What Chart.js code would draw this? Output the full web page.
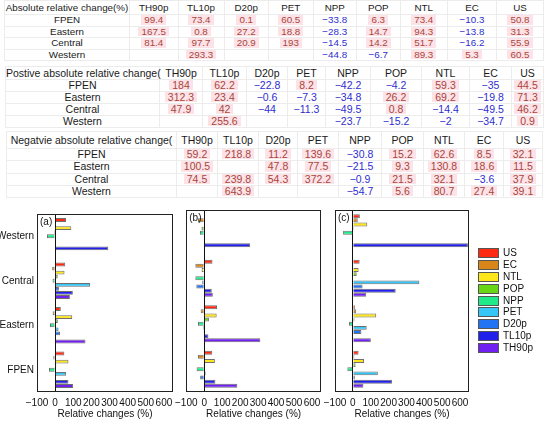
<!DOCTYPE html>
<html>
<head>
<meta charset="utf-8">
<script src="https://cdn.jsdelivr.net/npm/chart.js@4.4.1/dist/chart.umd.min.js"></script>
<style>
  body { margin: 0; width: 550px; height: 421px; background: #fff; position: relative; overflow: hidden;
         font-family: "Liberation Sans", Arial, sans-serif; }
  table.tb { position: absolute; border-collapse: collapse; table-layout: fixed; border: 1px solid #c4c4c4; color: #1a1a1a; }
  table.tb td { padding: 0; text-align: center; white-space: nowrap; overflow: visible; border: 1px solid #ececec; }
  .pos { display: inline-block; color: #a8463a; background: #fde2e8; padding: 0 3px; }
  .neg { display: inline-block; color: #2e2ed0; padding: 0 3px; }
  canvas.chart { position: absolute; }
  #legend { position: absolute; left: 478px; top: 248px; font-size: 10px; color: #111; }
  #legend div { height: 11.9px; position: relative; }
  #legend span.sw { position: absolute; left: 0; top: 0; width: 19px; height: 8px; border: 1px solid #555; }
  #legend span.lb { position: absolute; left: 25px; top: -1px; line-height: 11px; }
</style>
</head>
<body>
<canvas id="chartA" class="chart" width="180" height="216" style="left:0px;top:205px"></canvas>
<canvas id="chartB" class="chart" width="160" height="216" style="left:170px;top:205px"></canvas>
<canvas id="chartC" class="chart" width="157" height="216" style="left:318px;top:205px"></canvas>
<div id="legend"></div>
<script>
const regions = ['FPEN', 'Eastern', 'Central', 'Western'];
const variables = ['TH90p', 'TL10p', 'D20p', 'PET', 'NPP', 'POP', 'NTL', 'EC', 'US'];

// Absolute relative change (%) -> panel (a)
const absFPEN = [99.4, 73.4, 0.1, 60.5, -33.8, 6.3, 73.4, -10.3, 50.8];
const absEastern = [167.5, 0.8, 27.2, 18.8, -28.3, 14.7, 94.3, -13.8, 31.3];
const absCentral = [81.4, 97.7, 20.9, 193, -14.5, 14.2, 51.7, -16.2, 55.9];
const absWestern = [null, 293.3, null, null, -44.8, -6.7, 89.3, 5.3, 60.5];

// Positive absolute relative change -> panel (b)
const posFPEN = [184, 62.2, -22.8, 8.2, -42.2, -4.2, 59.3, -35, 44.5];
const posEastern = [312.3, 23.4, -0.6, -7.3, -34.8, 26.2, 69.2, -19.8, 71.3];
const posCentral = [47.9, 42, -44, -11.3, -49.5, 0.8, -14.4, -49.5, 46.2];
const posWestern = [null, 255.6, null, null, -23.7, -15.2, -2, -34.7, 0.9];

// Negative absolute relative change -> panel (c)
const negFPEN = [59.2, 218.8, 11.2, 139.6, -30.8, 15.2, 62.6, 8.5, 32.1];
const negEastern = [100.5, null, 47.8, 77.5, -21.5, 9.3, 130.8, 18.6, 11.5];
const negCentral = [74.5, 239.8, 54.3, 372.2, -0.9, 21.5, 32.1, -3.6, 37.9];
const negWestern = [null, 643.9, null, null, -54.7, 5.6, 80.7, 27.4, 39.1];

const xMin = -100;
const xMax = 650;
const xStep = 100;

const colors = {
    US: '#ff2a12', EC: '#d8861a', NTL: '#ffe61a', POP: '#66d615', NPP: '#20ea88',
    PET: '#35c6f5', D20p: '#2274f5', TL10p: '#2020ea', TH90p: '#7020f0'
};

const fmt = v => (v < 0 ? '\u2212' + Math.abs(v) : String(v));

// Tables
function buildTable(title, rows, box, widths, headH, rowH, fontSize) {
    const t = document.createElement('table');
    t.className = 'tb';
    t.style.left = box.left + 'px';
    t.style.top = box.top + 'px';
    t.style.width = widths.reduce((a, b) => a + b, 0) + 'px';
    t.style.fontSize = fontSize + 'px';
    const cg = document.createElement('colgroup');
    widths.forEach(w => {
        const c = document.createElement('col');
        c.style.width = w + 'px';
        cg.appendChild(c);
    });
    t.appendChild(cg);

    const head = document.createElement('tr');
    [title].concat(variables).forEach(txt => {
        const td = document.createElement('td');
        td.textContent = txt;
        td.style.height = headH + 'px';
        td.style.lineHeight = headH + 'px';
        head.appendChild(td);
    });
    t.appendChild(head);

    rows.forEach((vals, i) => {
        const tr = document.createElement('tr');
        const lab = document.createElement('td');
        lab.textContent = regions[i];
        lab.style.height = rowH + 'px';
        lab.style.lineHeight = rowH + 'px';
        tr.appendChild(lab);
        vals.forEach(v => {
            const td = document.createElement('td');
            td.style.height = rowH + 'px';
            td.style.lineHeight = rowH + 'px';
            if (v !== null) {
                const s = document.createElement('span');
                s.className = v < 0 ? 'neg' : 'pos';
                s.style.lineHeight = (rowH - 1) + 'px';
                s.textContent = fmt(v);
                td.appendChild(s);
            }
            tr.appendChild(td);
        });
        t.appendChild(tr);
    });
    document.body.appendChild(t);
}

buildTable('Absolute relative change(%)', [absFPEN, absEastern, absCentral, absWestern],
    { left: 4, top: 0 }, [125, 48.5, 46, 44.5, 44.5, 43.5, 43.5, 47.5, 49, 47], 13, 10.5, 9.8);
buildTable('Postive absolute relative change(', [posFPEN, posEastern, posCentral, posWestern],
    { left: 5, top: 66 }, [154, 43, 44, 41, 38, 45, 51, 48, 42, 32], 12, 11, 10.5);
buildTable('Negatvie absolute relative change(', [negFPEN, negEastern, negCentral, negWestern],
    { left: 6, top: 131 }, [170, 41, 41, 39, 41, 43, 42, 41, 39, 39], 16, 11.25, 10.5);

// Legend
const legendOrder = variables.slice().reverse();
const legend = document.getElementById('legend');
legendOrder.forEach(name => {
    const d = document.createElement('div');
    d.innerHTML = '<span class="sw" style="background:' + colors[name] + '"></span><span class="lb">' + name + '</span>';
    legend.appendChild(d);
});

// Charts
const framePlugin = {
    id: 'frame',
    afterDraw(chart, args, opts) {
        const { ctx, chartArea: a } = chart;
        ctx.save();
        ctx.strokeStyle = '#222';
        ctx.lineWidth = 1;
        ctx.strokeRect(Math.round(a.left) + 0.5, Math.round(a.top) + 0.5, Math.round(a.width) - 1, Math.round(a.height) - 1);
        ctx.fillStyle = '#111';
        ctx.font = '10px "Liberation Sans", Arial, sans-serif';
        ctx.textBaseline = 'top';
        ctx.fillText(opts.tag, a.left + 3, a.top + 3);
        ctx.restore();
    }
};

const chartRegions = regions.slice().reverse();

function makeChart(id, rowsTopDown, tag, showY, pad) {
    const datasets = legendOrder.map(name => {
        const k = variables.indexOf(name);
        return {
            label: name,
            data: rowsTopDown.map(r => r[k]),
            backgroundColor: colors[name],
            borderColor: 'rgba(50,50,50,0.7)',
            borderWidth: 1
        };
    });
    new Chart(document.getElementById(id), {
        type: 'bar',
        data: { labels: chartRegions, datasets: datasets },
        options: {
            indexAxis: 'y',
            responsive: false,
            animation: false,
            layout: { padding: pad },
            datasets: { bar: { categoryPercentage: 0.82, barPercentage: 0.95 } },
            plugins: {
                legend: { display: false },
                tooltip: { enabled: false },
                frame: { tag: tag }
            },
            scales: {
                x: {
                    min: xMin,
                    max: xMax,
                    grid: {
                        drawTicks: false,
                        color: c => (c.tick && c.tick.value === 0 ? '#111' : 'rgba(0,0,0,0)')
                    },
                    border: { display: false },
                    ticks: {
                        stepSize: xStep,
                        includeBounds: false,
                        autoSkip: false,
                        maxRotation: 0,
                        minRotation: 0,
                        padding: 5,
                        color: '#111',
                        font: { size: 10, family: '"Liberation Sans", Arial, sans-serif' },
                        callback: v => fmt(v)
                    },
                    title: {
                        display: true,
                        text: 'Relative changes (%)',
                        color: '#111',
                        font: { size: 10, family: '"Liberation Sans", Arial, sans-serif' },
                        padding: { top: 0, bottom: 1 }
                    },
                    afterFit: s => { s.height = 29; }
                },
                y: {
                    display: showY,
                    grid: { display: false, drawTicks: false },
                    border: { display: false },
                    ticks: {
                        padding: 3,
                        color: '#111',
                        font: { size: 10, family: '"Liberation Sans", Arial, sans-serif' }
                    },
                    afterFit: s => { s.width = showY ? 37 : 0; }
                }
            }
        },
        plugins: [framePlugin]
    });
}

makeChart('chartA', [absWestern, absCentral, absEastern, absFPEN], '(a)', true, { left: 0, right: 7, top: 5, bottom: 0 });
makeChart('chartB', [posWestern, posCentral, posEastern, posFPEN], '(b)', false, { left: 16, right: 9, top: 5, bottom: 0 });
makeChart('chartC', [negWestern, negCentral, negEastern, negFPEN], '(c)', false, { left: 17, right: 6, top: 5, bottom: 0 });
</script>
</body>
</html>
